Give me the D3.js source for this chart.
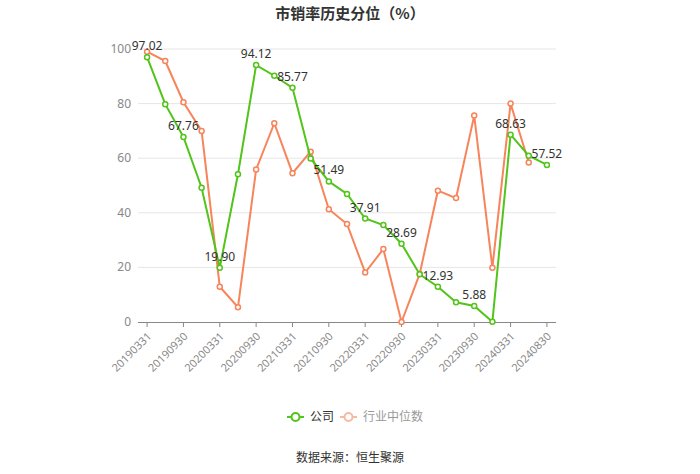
<!DOCTYPE html>
<html><head><meta charset="utf-8">
<script src="https://cdn.jsdelivr.net/npm/d3@7/dist/d3.min.js"></script>
<style>body{margin:0;background:#fff;font-family:"Noto Sans CJK SC","Noto Sans",sans-serif;}</style>
</head><body><svg id="c" width="700" height="474"></svg>
<script>
const categories = ["20190331","20190630","20190930","20191231","20200331","20200630","20200930","20201231","20210331","20210630","20210930","20211231","20220331","20220630","20220930","20221231","20230331","20230630","20230930","20231231","20240331","20240630","20240830"];
const companyValues = [97.02,79.8,67.76,49.2,19.90,54.1,94.12,90.2,85.77,59.9,51.49,46.9,37.91,35.5,28.69,17.5,12.93,7.2,5.88,0.1,68.63,60.9,57.52];
const industryValues = [99.0,95.6,80.5,70.0,12.9,5.4,55.9,72.8,54.5,62.4,41.3,35.9,18.1,26.7,0,17.6,48.1,45.4,75.6,19.9,80.0,58.4,null];
const yTicks = [0,20,40,60,80,100];
const seriesNames = ["公司","行业中位数"];
const colors = ["#52c41a","#f7845a"];

const svg = d3.select("#c");
const pLeft = 138, pRight = 556, pTop = 49, pBottom = 322;
const x = d3.scaleBand().domain(categories).range([pLeft, pRight]);
const y = d3.scaleLinear().domain([0,100]).range([pBottom, pTop]);
const cx = d => x(d) + x.bandwidth()/2;

svg.append("text").attr("x",350).attr("y",19).attr("text-anchor","middle")
  .attr("font-size",15).attr("font-weight","bold").attr("fill","#333").text("市销率历史分位（%）");

// grid
svg.append("g").selectAll("line").data(yTicks.filter(t=>t>0)).join("line")
  .attr("x1",pLeft).attr("x2",pRight).attr("y1",d=>y(d)).attr("y2",d=>y(d))
  .attr("stroke","#e6e6e6").attr("stroke-width",1);
// y labels
svg.append("g").selectAll("text").data(yTicks).join("text")
  .attr("x",pLeft-7).attr("y",d=>y(d)+4).attr("text-anchor","end")
  .attr("font-size",12).attr("fill","#888").attr("font-family","'Noto Sans',sans-serif").text(d=>d);

// x axis
const labelCats = categories.filter((c,i)=>i%2===0);
const xAxis = d3.axisBottom(x).tickValues(labelCats).tickSize(5).tickFormat(d=>d);
const gx = svg.append("g").attr("transform",`translate(0,${pBottom})`).call(xAxis);
gx.select(".domain").attr("stroke","#888").attr("d",`M${pLeft},0.5H${pRight}`);
gx.selectAll(".tick line").attr("stroke","#888");
gx.selectAll(".tick text").attr("fill","#888").attr("font-size",11)
  .attr("text-anchor","end").attr("dy","0.3em")
  .attr("transform","translate(-3,7) rotate(-45)")
  .attr("font-family","'Noto Sans',sans-serif");

function drawSeries(vals, color){
  const pts = categories.map((c,i)=>({c, v: vals[i]})).filter(p=>p.v!==null);
  const line = d3.line().x(p=>cx(p.c)).y(p=>y(p.v));
  svg.append("path").datum(pts).attr("d",line).attr("fill","none")
    .attr("stroke",color).attr("stroke-width",2);
  svg.append("g").selectAll("circle").data(pts).join("circle")
    .attr("cx",p=>cx(p.c)).attr("cy",p=>y(p.v)).attr("r",2.5)
    .attr("fill","#fff").attr("stroke",color).attr("stroke-width",1.5);
}
drawSeries(industryValues, colors[1]);
drawSeries(companyValues, colors[0]);

// labels on company series
svg.append("g").selectAll("text").data(categories.map((c,i)=>({c,v:companyValues[i],i})).filter(p=>p.i%2===0))
  .join("text").attr("x",p=>cx(p.c)).attr("y",p=>y(p.v)-7).attr("text-anchor","middle")
  .attr("font-size",12).attr("fill","#333").attr("font-family","'Noto Sans',sans-serif")
  .text(p=>p.v.toFixed(2));

// legend
const lg = svg.append("g");
const legendItems = [{name:seriesNames[0], color:colors[0], x:287, text:"#333"},{name:seriesNames[1], color:"#f7b9a0", x:340, text:"#999"}];
legendItems.forEach(it=>{
  lg.append("line").attr("x1",it.x).attr("x2",it.x+17).attr("y1",417).attr("y2",417).attr("stroke",it.color).attr("stroke-width",2);
  lg.append("circle").attr("cx",it.x+8.5).attr("cy",417).attr("r",4).attr("fill","#fff").attr("stroke",it.color).attr("stroke-width",2);
  lg.append("text").attr("x",it.x+23).attr("y",421).attr("font-size",12).attr("fill",it.text).text(it.name);
});

svg.append("text").attr("x",350).attr("y",462).attr("text-anchor","middle")
  .attr("font-size",12).attr("fill","#333").text("数据来源：恒生聚源");
</script></body></html>
